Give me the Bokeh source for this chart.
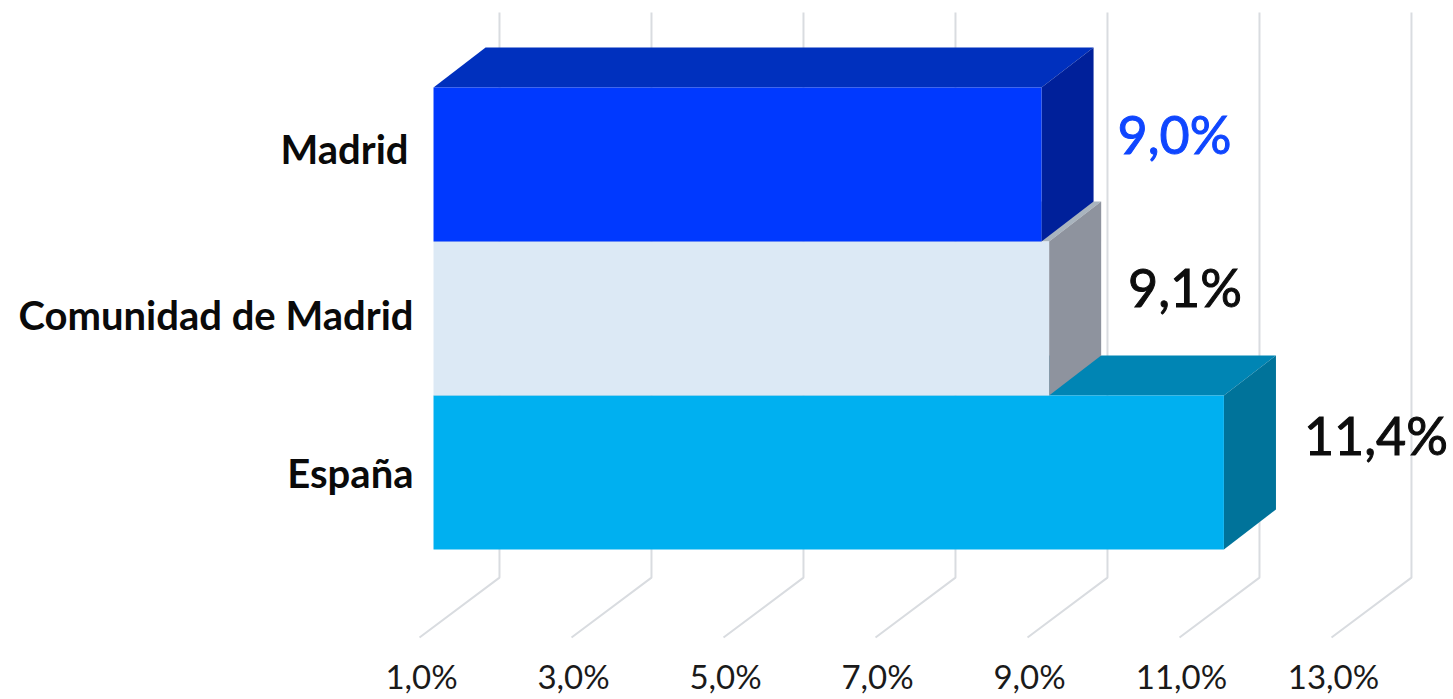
from bokeh.embed import file_html
from bokeh.resources import INLINE
from bokeh.plotting import figure
from bokeh.models import Range1d, LinearAxis, FixedTicker
from bokeh.core.properties import value as fixed

categories = ["Madrid\u2009", "Comunidad de Madrid", "España"]
values = [9.0, 9.1, 11.4]
value_labels = ["9,0%", "9,1%", "11,4%"]
front_colors = ["#0039FF", "#DCE9F5", "#00B0F0"]
top_colors = ["#0030BE", "#A9B4BE", "#0085B4"]
side_colors = ["#00209A", "#8E939E", "#00739A"]
label_colors = ["#0F46FF", "#0D0D0D", "#0D0D0D"]
ticks = [1, 3, 5, 7, 9, 11, 13]
tick_labels = ["1,0%", "3,0%", "5,0%", "7,0%", "9,0%", "11,0%", "13,0%"]

rows = [2, 1, 0]
label_rows = [2.10, 1.02, 0.0]
BASE = 1
DX, DY = 0.685, 0.26          # bar depth in axis units
GX, GY0, GY1, GY2 = 0.868, 2.987, -0.682, -1.071   # wall and floor geometry
FX = -0.184

W, H = 1453, 699
x0, x1 = 0.763, 14.421
p = figure(width=W, height=H, output_backend="svg", toolbar_location=None,
           x_range=Range1d(x0, x1), y_range=Range1d(-1.084, 3.065),
           min_border_left=415, min_border_right=0, min_border_top=0, min_border_bottom=60,
           outline_line_color=None, background_fill_color="white", border_fill_color="white")
p.grid.visible = False
p.xaxis.visible = False
p.yaxis.visible = False

# wall and floor lines
p.multi_line(xs=[[t + FX, t + GX, t + GX] for t in ticks],
             ys=[[GY2, GY1, GY0] for _ in ticks],
             line_color="#D9DCE0", line_width=2)

# bars, from the front row to the back so that the upper bars overlap
for i in [2, 1, 0]:
    v, r = values[i], rows[i]
    t, b = r + 0.5, r - 0.5
    p.patch([BASE, BASE + DX, v + DX, v], [t, t + DY, t + DY, t],
            fill_color=top_colors[i], line_color=None)
    p.patch([v, v + DX, v + DX, v], [t, t + DY, b + DY, b],
            fill_color=side_colors[i], line_color=None)
    p.quad(left=[BASE], right=[v], top=[t], bottom=[b],
           fill_color=front_colors[i], line_color=None)

# value labels
p.text(x=values, y=rows, text=value_labels, text_color=label_colors,
       text_outline_color=label_colors,
       text_font=fixed("Lato"), text_font_size="52px", text_font_style="normal",
       text_align="left", text_baseline="middle",
       x_offset=[76, 79, 80], y_offset=[-31, -32, -38])

# category axis
ly = LinearAxis(ticker=FixedTicker(ticks=label_rows),
                major_label_overrides=dict(zip(label_rows, categories)),
                major_label_text_font="Lato", major_label_text_font_style="bold",
                major_label_text_font_size="40px", major_label_text_color="#0A0A0A",
                axis_line_color=None, major_tick_line_color=None, minor_tick_line_color=None,
                major_tick_in=0, major_tick_out=0,
                major_label_standoff=2)
p.add_layout(ly, "left")

# percentage axis, set under the front ends of the floor lines
shift = 0.158
p.extra_x_ranges["labels"] = Range1d(x0 + shift, x1 + shift)
lx = LinearAxis(x_range_name="labels", ticker=FixedTicker(ticks=ticks),
                major_label_overrides=dict(zip(ticks, tick_labels)),
                major_label_text_font="Lato", major_label_text_font_size="33px",
                major_label_text_color="#1A1A1A",
                axis_line_color=None, major_tick_line_color=None, minor_tick_line_color=None,
                major_tick_in=0, major_tick_out=0,
                major_label_standoff=16)
p.add_layout(lx, "below")

open("out.html", "w").write(file_html(p, INLINE))
